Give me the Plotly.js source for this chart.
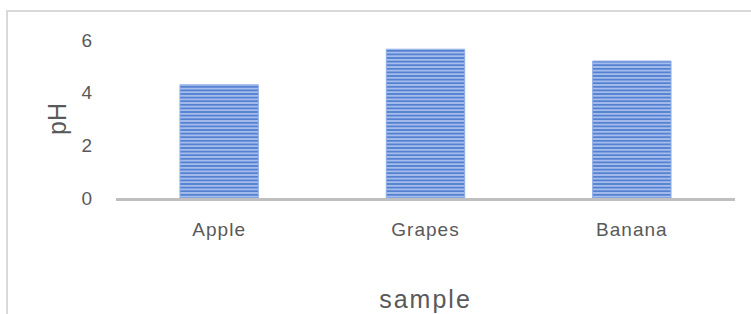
<!DOCTYPE html>
<html>
<head>
<meta charset="utf-8">
<script src="https://cdn.plot.ly/plotly-3.0.1.min.js"></script>
<style>
  html, body { margin: 0; padding: 0; background: #fff; }
  #chart { width: 751px; height: 314px; }
  #chart .xtick text, #chart .ytick text { letter-spacing: 1px; }
  #chart .g-xtitle text { letter-spacing: 2px; }
</style>
</head>
<body>
<div id="chart"></div>
<script>
const categories = ["Apple", "Grapes", "Banana"];
const phValues = [4.3, 5.65, 5.2];
const yTickValues = [0, 2, 4, 6];
const yTickLabels = ["0", "2", "4", "6"];
const xTitle = "sample";
const yTitle = "pH";

const W = 751, H = 314;
const L = 116, R = 16, T = 40, B = 116;
const pw = W - L - R, ph = H - T - B;
function px2x(p) { return (p - L) / pw; }
function px2y(p) { return (H - B - p) / ph; }

const textColor = "#595959";
const fontFam = "Liberation Sans, Arial, sans-serif";

const trace = {
  type: "bar",
  x: categories,
  y: phValues,
  marker: {
    color: "#5581d2",
    pattern: { shape: "-", size: 3.6, solidity: 0.45, fgcolor: "#aec4ee", bgcolor: "#5581d2", fillmode: "replace" },
    line: { color: "#8fade6", width: 1 }
  },
  hoverinfo: "skip"
};

const layout = {
  width: W, height: H,
  margin: { l: L, r: R, t: T, b: B, pad: 0 },
  paper_bgcolor: "#ffffff",
  plot_bgcolor: "#ffffff",
  showlegend: false,
  bargap: 0.62,
  font: { family: fontFam, color: textColor },
  xaxis: {
    type: "category",
    showline: true, linecolor: "#bfbfbf", linewidth: 3,
    showgrid: false, zeroline: false,
    ticks: "",
    ticklabelstandoff: 12,
    tickfont: { size: 19, color: textColor, family: fontFam },
    title: { text: xTitle, font: { size: 25, color: textColor, family: fontFam }, standoff: 52 },
    automargin: false,
    fixedrange: true
  },
  yaxis: {
    range: [0, 6],
    tickvals: yTickValues,
    ticktext: yTickLabels,
    showline: false, showgrid: false, zeroline: false,
    ticks: "",
    ticklabelstandoff: 22,
    tickfont: { size: 19, color: textColor, family: fontFam },
    title: { text: yTitle, font: { size: 25, color: textColor, family: fontFam }, standoff: 8 },
    automargin: false,
    fixedrange: true
  },
  shapes: [
    { type: "line", xref: "paper", yref: "paper", x0: px2x(7), x1: px2x(7), y0: px2y(11), y1: px2y(316), line: { color: "#d9d9d9", width: 2 } },
    { type: "line", xref: "paper", yref: "paper", x0: px2x(6), x1: px2x(753), y0: px2y(11), y1: px2y(11), line: { color: "#d9d9d9", width: 2 } }
  ]
};

Plotly.newPlot("chart", [trace], layout, { displayModeBar: false, staticPlot: true });
</script>
</body>
</html>
